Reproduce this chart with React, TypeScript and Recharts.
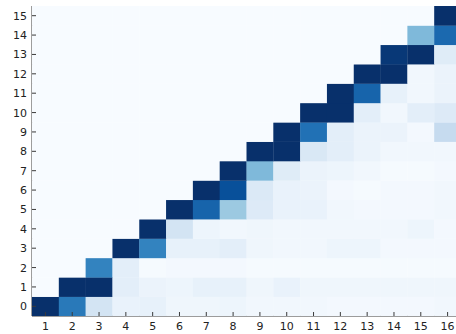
import React from "react";
import { ScatterChart, Scatter, XAxis, YAxis } from "recharts";

// column labels (x) and row labels (y)
const columns = [1, 2, 3, 4, 5, 6, 7, 8, 9, 10, 11, 12, 13, 14, 15, 16];
const rows = [0, 1, 2, 3, 4, 5, 6, 7, 8, 9, 10, 11, 12, 13, 14, 15];

// normalized intensity per row (row 0 first), one value per column
const row0 = [1.0, 0.72, 0.18, 0.07, 0.08, 0.04, 0.04, 0.05, 0.03, 0.03, 0.03, 0.02, 0.02, 0.02, 0.02, 0.03];
const row1 = [0, 1.0, 1.0, 0.1, 0.06, 0.05, 0.08, 0.08, 0.04, 0.07, 0.04, 0.04, 0.04, 0.04, 0.04, 0.04];
const row2 = [0, 0, 0.68, 0.1, 0.01, 0.02, 0.02, 0.02, 0.01, 0.01, 0.01, 0.01, 0.01, 0.01, 0.01, 0.01];
const row3 = [0, 0, 0, 1.0, 0.68, 0.08, 0.08, 0.1, 0.04, 0.03, 0.03, 0.05, 0.05, 0.02, 0.02, 0.02];
const row4 = [0, 0, 0, 0, 1.0, 0.18, 0.05, 0.03, 0.04, 0.03, 0.03, 0.03, 0.03, 0.03, 0.05, 0.02];
const row5 = [0, 0, 0, 0, 0, 1.0, 0.8, 0.38, 0.13, 0.07, 0.07, 0.03, 0.02, 0.02, 0.02, 0.03];
const row6 = [0, 0, 0, 0, 0, 0, 1.0, 0.88, 0.14, 0.07, 0.06, 0.02, 0.01, 0.02, 0.02, 0.03];
const row7 = [0, 0, 0, 0, 0, 0, 0, 1.0, 0.45, 0.12, 0.06, 0.05, 0.03, 0.01, 0.01, 0.02];
const row8 = [0, 0, 0, 0, 0, 0, 0, 0, 1.0, 1.0, 0.15, 0.1, 0.06, 0.03, 0.03, 0.03];
const row9 = [0, 0, 0, 0, 0, 0, 0, 0, 0, 1.0, 0.75, 0.1, 0.06, 0.06, 0.02, 0.25];
const row10 = [0, 0, 0, 0, 0, 0, 0, 0, 0, 0, 1.0, 1.0, 0.1, 0.03, 0.1, 0.13];
const row11 = [0, 0, 0, 0, 0, 0, 0, 0, 0, 0, 0, 1.0, 0.8, 0.08, 0.03, 0.06];
const row12 = [0, 0, 0, 0, 0, 0, 0, 0, 0, 0, 0, 0, 1.0, 1.0, 0.03, 0.06];
const row13 = [0, 0, 0, 0, 0, 0, 0, 0, 0, 0, 0, 0, 0, 0.97, 1.0, 0.12];
const row14 = [0, 0, 0, 0, 0, 0, 0, 0, 0, 0, 0, 0, 0, 0, 0.45, 0.78];
const row15 = [0, 0, 0, 0, 0, 0, 0, 0, 0, 0, 0, 0, 0, 0, 0, 1.0];

const grid = [row0, row1, row2, row3, row4, row5, row6, row7, row8, row9, row10, row11, row12, row13, row14, row15];

const cells = rows.flatMap((r, i) =>
  columns.map((c, j) => ({ x: c, y: r, v: grid[i][j] }))
);

// matplotlib "Blues"
const blues = ["#f7fbff", "#deebf7", "#c6dbef", "#9ecae1", "#6baed6", "#4292c6", "#2171b5", "#08519c", "#08306b"];

function hex(c: string) {
  return [1, 3, 5].map((i) => parseInt(c.slice(i, i + 2), 16));
}

function bluesColor(t: number) {
  const s = Math.max(0, Math.min(1, t)) * (blues.length - 1);
  const i = Math.min(Math.floor(s), blues.length - 2);
  const f = s - i;
  const a = hex(blues[i]);
  const b = hex(blues[i + 1]);
  const m = a.map((v, k) => Math.round(v + (b[k] - v) * f));
  return `rgb(${m[0]},${m[1]},${m[2]})`;
}

const W = 461;
const H = 334;
const margin = { top: 6, right: 0, bottom: 0, left: 0 };
const yAxisW = 32;
const xAxisH = 18;
const cellW = (W - margin.left - margin.right - yAxisW) / columns.length;
const cellH = (H - margin.top - margin.bottom - xAxisH) / rows.length;

const axisColor = "#3a3a3a";
const font = "DejaVu Sans";

const BottomTick = (props: any) => {
  const { x, y, payload } = props;
  return (
    <g>
      <line x1={x} y1={y} x2={x} y2={y - 4} stroke={axisColor} />
      <text x={x} y={y + 14} textAnchor="middle" fontSize={11} fontFamily={font} fill="#222">
        {payload.value}
      </text>
    </g>
  );
};

const TopTick = (props: any) => {
  const { x, y } = props;
  return <line x1={x} y1={y} x2={x} y2={y + 4} stroke={axisColor} />;
};

const LeftTick = (props: any) => {
  const { x, y, payload } = props;
  return (
    <g>
      <line x1={x} y1={y} x2={x + 4} y2={y} stroke={axisColor} />
      <text x={x - 5} y={y} dy="0.36em" textAnchor="end" fontSize={11} fontFamily={font} fill="#222">
        {payload.value}
      </text>
    </g>
  );
};

const Cell = (props: any) => {
  const { cx, cy, payload } = props;
  return (
    <rect
      x={cx - cellW / 2}
      y={cy - cellH / 2}
      width={cellW + 0.3}
      height={cellH + 0.3}
      fill={bluesColor(payload.v)}
    />
  );
};

export default function App() {
  return (
    <div
      style={{
        position: "absolute",
        left: 0,
        top: 0,
        width: 456,
        height: 334,
        overflow: "hidden",
        background: "#fff",
      }}
    >
      <ScatterChart width={W} height={H} margin={margin}>
        <XAxis
          xAxisId={0}
          dataKey="x"
          type="number"
          domain={[0.5, 16.5]}
          allowDataOverflow
          ticks={columns}
          interval={0}
          height={xAxisH}
          tickSize={0}
          tickMargin={0}
          tick={<BottomTick />}
          stroke={axisColor}
        />
        <XAxis
          xAxisId="top"
          orientation="top"
          dataKey="x"
          type="number"
          domain={[0.5, 16.5]}
          allowDataOverflow
          ticks={columns}
          interval={0}
          height={0}
          tickSize={0}
          tickMargin={0}
          tick={<TopTick />}
          stroke={axisColor}
        />
        <YAxis
          dataKey="y"
          type="number"
          domain={[-0.5, 15.5]}
          allowDataOverflow
          ticks={rows}
          interval={0}
          width={yAxisW}
          tickSize={0}
          tickMargin={0}
          tick={<LeftTick />}
          stroke={axisColor}
        />
        <Scatter data={cells} shape={<Cell />} isAnimationActive={false} />
      </ScatterChart>
    </div>
  );
}
